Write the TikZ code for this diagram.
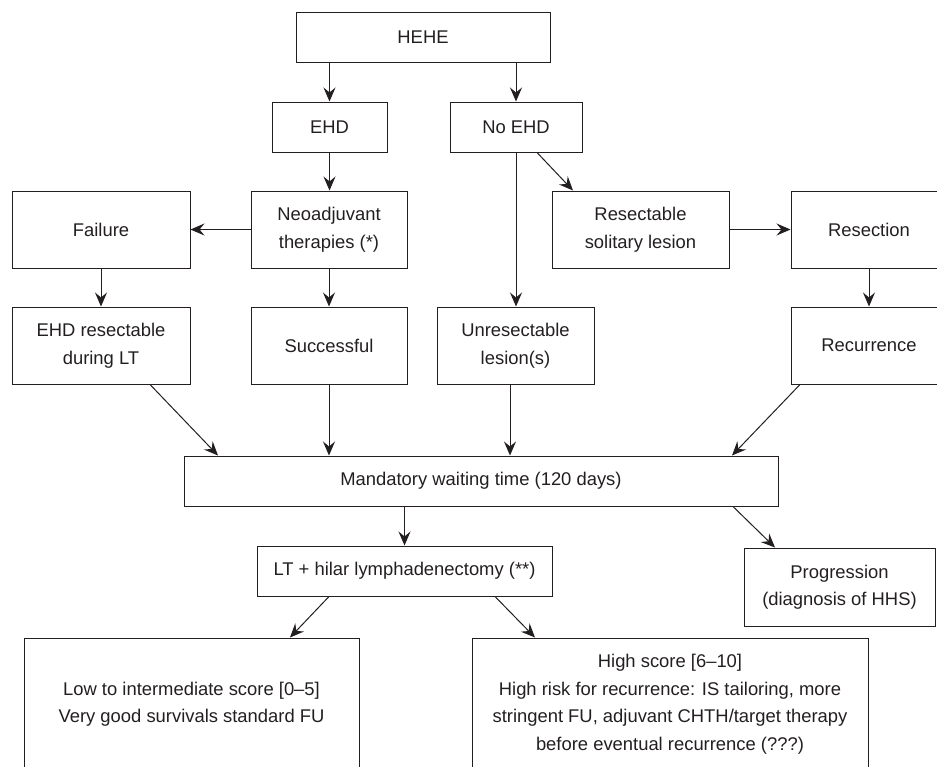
\documentclass[tikz,border=0pt]{standalone}
\usepackage{fontspec}
\setmainfont{Liberation Sans}
\usetikzlibrary{arrows.meta}
\definecolor{ink}{HTML}{231F20}
\tikzset{
  box/.style={draw=ink, line width=1pt, text=ink, align=center, inner sep=0pt,
    font=\fontsize{18.4}{27.5}\selectfont},
  conn/.style={draw=ink, line width=1pt, -{Stealth[length=14pt,width=12pt,inset=5pt]}}
}
\begin{document}
\begin{tikzpicture}[x=1pt,y=-1pt]
\useasboundingbox (0,0) rectangle (937,766);
\clip (0,0) rectangle (937,766);
% row 1
\node[box, minimum width=254pt, minimum height=50pt] (hehe) at (423,37) {HEHE};
% row 2
\node[box, minimum width=115pt, minimum height=50pt] (ehd) at (329.5,127) {EHD};
\node[box, minimum width=132pt, minimum height=50pt] (noehd) at (516,127) {No EHD};
% row 3
\node[box, minimum width=178pt, minimum height=77pt] (fail) at (101,229.5) {Failure};
\node[box, minimum width=156pt, minimum height=77pt] (neo) at (329,229.5) {Neoadjuvant\\therapies (*)};
\node[box, minimum width=177pt, minimum height=77pt] (resol) at (640.5,229.5) {Resectable\\solitary lesion};
\node[box, minimum width=156pt, minimum height=77pt] (resec) at (869,229.5) {Resection};
% row 4
\node[box, minimum width=178pt, minimum height=77pt] (ehdres) at (101,345.5) {EHD resectable\\during LT};
\node[box, minimum width=156pt, minimum height=77pt] (succ) at (329,345.5) {Successful};
\node[box, minimum width=157pt, minimum height=77pt] (unres) at (515.5,345.5) {Unresectable\\lesion(s)};
\node[box, minimum width=156pt, minimum height=77pt] (recur) at (869,345.5) {Recurrence};
% row 5
\node[box, minimum width=594pt, minimum height=50pt] (wait) at (481,481) {Mandatory waiting time (120 days)};
% row 6
\node[box, minimum width=295pt, minimum height=50pt] (lt) at (404.5,571) {LT + hilar lymphadenectomy (**)};
\node[box, minimum width=191pt, minimum height=78pt] (prog) at (839.5,587) {Progression\\(diagnosis of HHS)};
% row 7
\node[box, minimum width=335pt, minimum height=132pt] (low) at (191.5,704) {Low to intermediate score [0--5]\\Very good survivals standard FU};
\node[box, minimum width=396pt, minimum height=132pt] (high) at (670,704) {High score [6--10]\\High risk for recurrence: IS tailoring, more\\stringent FU, adjuvant CHTH/target therapy\\before eventual recurrence (???)};
% connectors
\draw[conn] (hehe.south -| ehd) -- (ehd.north);
\draw[conn] (hehe.south -| noehd) -- (noehd.north);
\draw[conn] (ehd.south) -- (ehd.south |- neo.north);
\draw[conn] (neo.west) -- (fail.east);
\draw[conn] (noehd.south -| 537,0) -- (resol.north -| 573,0);
\draw[conn] (noehd.south) -- (noehd.south |- unres.north);
\draw[conn] (resol.east) -- (resec.west);
\draw[conn] (fail.south) -- (ehdres.north);
\draw[conn] (neo.south) -- (succ.north);
\draw[conn] (resec.south) -- (recur.north);
\draw[conn] (ehdres.south -| 150,0) -- (wait.north -| 218,0);
\draw[conn] (succ.south) -- (succ.south |- wait.north);
\draw[conn] (unres.south -| 510,0) -- (wait.north -| 510,0);
\draw[conn] (recur.south -| 800,0) -- (wait.north -| 732,0);
\draw[conn] (wait.south -| lt) -- (lt.north);
\draw[conn] (wait.south -| 733,0) -- (prog.north -| 775,0);
\draw[conn] (lt.south -| 329,0) -- (low.north -| 290,0);
\draw[conn] (lt.south -| 495,0) -- (high.north -| 535,0);
\end{tikzpicture}
\end{document}
